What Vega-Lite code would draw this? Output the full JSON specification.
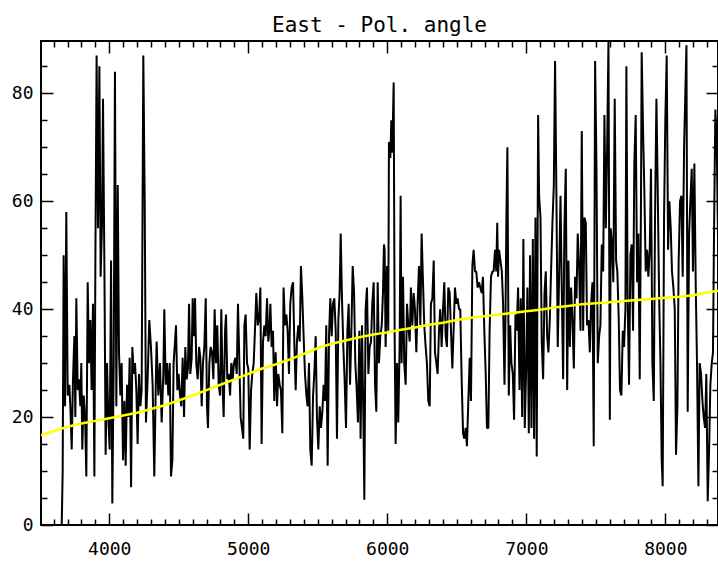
{
  "$schema": "https://vega.github.io/schema/vega-lite/v6.json",
  "width": 677,
  "height": 484,
  "autosize": {"type": "none"},
  "padding": {"left": 41, "top": 41, "right": 0, "bottom": 36},
  "background": "white",
  "title": {"text": "East - Pol. angle", "font": "DejaVu Sans Mono", "fontSize": 21, "fontWeight": "normal", "color": "black", "anchor": "middle", "baseline": "alphabetic", "offset": -13},
  "config": {
    "view": {"stroke": "black", "strokeWidth": 2},
    "axis": {"domain": false, "grid": false, "tickColor": "black", "tickWidth": 1.5, "labelFont": "DejaVu Sans Mono", "labelFontSize": 18, "labelColor": "black", "title": null}
  },
  "datasets": {
    "east": [
      {"x":3658,"y":0},{"x":3665,"y":10},{"x":3672,"y":50},{"x":3682,"y":22},{"x":3691,"y":58},{"x":3701,"y":24},{"x":3713,"y":26},{"x":3720,"y":22},{"x":3730,"y":14},{"x":3739,"y":27},{"x":3749,"y":35},{"x":3756,"y":20},{"x":3763,"y":42},{"x":3773,"y":25},{"x":3782,"y":27},{"x":3792,"y":22},{"x":3799,"y":30},{"x":3806,"y":14},{"x":3816,"y":24},{"x":3826,"y":20},{"x":3835,"y":9},{"x":3845,"y":45},{"x":3854,"y":30},{"x":3864,"y":38},{"x":3873,"y":25},{"x":3883,"y":41},{"x":3893,"y":9},{"x":3900,"y":48},{"x":3909,"y":87},{"x":3919,"y":55},{"x":3929,"y":85},{"x":3938,"y":46},{"x":3948,"y":56},{"x":3955,"y":79},{"x":3965,"y":48},{"x":3974,"y":13},{"x":3984,"y":30},{"x":3993,"y":20},{"x":4003,"y":14},{"x":4013,"y":49},{"x":4022,"y":4},{"x":4032,"y":30},{"x":4041,"y":84},{"x":4051,"y":22},{"x":4061,"y":63},{"x":4070,"y":32},{"x":4080,"y":24},{"x":4089,"y":30},{"x":4099,"y":12},{"x":4109,"y":23},{"x":4118,"y":11},{"x":4128,"y":26},{"x":4137,"y":20},{"x":4147,"y":31},{"x":4157,"y":7},{"x":4166,"y":33},{"x":4176,"y":28},{"x":4185,"y":30},{"x":4195,"y":25},{"x":4204,"y":15},{"x":4214,"y":28},{"x":4224,"y":22},{"x":4233,"y":25},{"x":4245,"y":87},{"x":4255,"y":60},{"x":4264,"y":19},{"x":4276,"y":27},{"x":4288,"y":38},{"x":4300,"y":33},{"x":4312,"y":26},{"x":4324,"y":9},{"x":4336,"y":28},
      {"x":4341,"y":34},{"x":4353,"y":24},{"x":4365,"y":30},{"x":4377,"y":19},{"x":4389,"y":28},{"x":4396,"y":40},{"x":4406,"y":26},{"x":4415,"y":30},{"x":4425,"y":24},{"x":4435,"y":30},{"x":4444,"y":9},{"x":4454,"y":12},{"x":4463,"y":30},{"x":4473,"y":34},{"x":4480,"y":37},{"x":4490,"y":25},{"x":4499,"y":28},{"x":4509,"y":24},{"x":4518,"y":22},{"x":4528,"y":31},{"x":4538,"y":20},{"x":4547,"y":33},{"x":4557,"y":27},{"x":4566,"y":29},{"x":4574,"y":41},{"x":4583,"y":28},{"x":4593,"y":31},{"x":4600,"y":42},{"x":4610,"y":35},{"x":4617,"y":42},{"x":4626,"y":30},{"x":4636,"y":27},{"x":4646,"y":33},{"x":4655,"y":31},{"x":4665,"y":22},{"x":4674,"y":30},{"x":4684,"y":33},{"x":4694,"y":42},{"x":4703,"y":22},{"x":4710,"y":18},{"x":4720,"y":30},{"x":4729,"y":33},{"x":4739,"y":32},{"x":4749,"y":27},{"x":4758,"y":40},{"x":4768,"y":30},{"x":4777,"y":37},{"x":4787,"y":26},{"x":4797,"y":24},{"x":4806,"y":40},{"x":4816,"y":25},{"x":4823,"y":20},{"x":4833,"y":36},{"x":4840,"y":39},{"x":4849,"y":27},{"x":4859,"y":28},{"x":4869,"y":24},{"x":4878,"y":30},{"x":4888,"y":27},{"x":4897,"y":30},{"x":4907,"y":31},{"x":4917,"y":28},{"x":4926,"y":41},{"x":4936,"y":30},{"x":4945,"y":20},{"x":4955,"y":18},{"x":4964,"y":16},{"x":4972,"y":37},{"x":4981,"y":39},{"x":4991,"y":30},{"x":5000,"y":29},{"x":5010,"y":14},{"x":5020,"y":25},{"x":5029,"y":28},{"x":5039,"y":30},{"x":5048,"y":36},{"x":5058,"y":43},{"x":5068,"y":37},{"x":5077,"y":38},{"x":5087,"y":44},{"x":5096,"y":15},{"x":5106,"y":34},{"x":5116,"y":37},{"x":5125,"y":35},{"x":5135,"y":42},{"x":5144,"y":34},{"x":5154,"y":37},
      {"x":5159,"y":41},{"x":5168,"y":33},{"x":5178,"y":36},{"x":5187,"y":23},{"x":5197,"y":32},{"x":5207,"y":22},{"x":5216,"y":28},{"x":5226,"y":26},{"x":5235,"y":25},{"x":5245,"y":17},{"x":5254,"y":44},{"x":5264,"y":37},{"x":5274,"y":39},{"x":5283,"y":36},{"x":5293,"y":28},{"x":5302,"y":41},{"x":5312,"y":44},{"x":5322,"y":45},{"x":5331,"y":34},{"x":5341,"y":25},{"x":5350,"y":34},{"x":5360,"y":37},{"x":5370,"y":34},{"x":5379,"y":48},{"x":5389,"y":42},{"x":5398,"y":35},{"x":5408,"y":28},{"x":5418,"y":24},{"x":5427,"y":22},{"x":5437,"y":30},{"x":5446,"y":14},{"x":5456,"y":11},{"x":5466,"y":24},{"x":5475,"y":28},{"x":5485,"y":35},{"x":5494,"y":20},{"x":5504,"y":14},{"x":5514,"y":22},{"x":5523,"y":18},{"x":5533,"y":21},{"x":5542,"y":26},{"x":5552,"y":23},{"x":5561,"y":37},{"x":5571,"y":11},{"x":5581,"y":35},{"x":5590,"y":42},{"x":5600,"y":35},{"x":5609,"y":41},{"x":5619,"y":42},{"x":5629,"y":36},{"x":5638,"y":16},{"x":5648,"y":38},{"x":5657,"y":43},{"x":5665,"y":54},{"x":5674,"y":42},{"x":5684,"y":33},{"x":5693,"y":27},{"x":5703,"y":18},{"x":5713,"y":36},{"x":5722,"y":41},{"x":5732,"y":26},{"x":5741,"y":35},{"x":5751,"y":48},{"x":5761,"y":43},{"x":5770,"y":30},{"x":5780,"y":25},{"x":5789,"y":19},{"x":5799,"y":36},{"x":5808,"y":16},{"x":5818,"y":37},{"x":5828,"y":20},{"x":5835,"y":4.7},{"x":5844,"y":40},{"x":5854,"y":44},{"x":5864,"y":28},{"x":5873,"y":33},{"x":5883,"y":34},{"x":5892,"y":41},{"x":5902,"y":45},{"x":5912,"y":26},{"x":5921,"y":21},{"x":5931,"y":45},{"x":5940,"y":30},{"x":5950,"y":35},{"x":5960,"y":37},{"x":5969,"y":43},{"x":5976,"y":52},
      {"x":5981,"y":51},{"x":5988,"y":33},{"x":5998,"y":48},{"x":6007,"y":36},{"x":6012,"y":71},{"x":6022,"y":68},{"x":6029,"y":75},{"x":6036,"y":69},{"x":6046,"y":82},{"x":6053,"y":35},{"x":6060,"y":15},{"x":6070,"y":30},{"x":6079,"y":19},{"x":6089,"y":34},{"x":6096,"y":61},{"x":6103,"y":30},{"x":6113,"y":46},{"x":6122,"y":30},{"x":6132,"y":26},{"x":6142,"y":41},{"x":6151,"y":37},{"x":6161,"y":34},{"x":6170,"y":44},{"x":6180,"y":37},{"x":6190,"y":43},{"x":6199,"y":40},{"x":6209,"y":32},{"x":6218,"y":41},{"x":6228,"y":48},{"x":6238,"y":37},{"x":6247,"y":54},{"x":6257,"y":45},{"x":6266,"y":37},{"x":6276,"y":33},{"x":6285,"y":30},{"x":6295,"y":23},{"x":6305,"y":22},{"x":6314,"y":41},{"x":6324,"y":42},{"x":6334,"y":49},{"x":6343,"y":32},{"x":6353,"y":30},{"x":6362,"y":28},{"x":6372,"y":36},{"x":6381,"y":40},{"x":6391,"y":33},{"x":6401,"y":40},{"x":6410,"y":45},{"x":6420,"y":35},{"x":6429,"y":33},{"x":6439,"y":44},{"x":6449,"y":43},{"x":6458,"y":36},{"x":6468,"y":29},{"x":6477,"y":36},{"x":6487,"y":44},{"x":6497,"y":41},{"x":6506,"y":42},{"x":6516,"y":40},{"x":6525,"y":40},{"x":6535,"y":27},{"x":6545,"y":17},{"x":6554,"y":16},{"x":6564,"y":18},{"x":6573,"y":14.6},{"x":6583,"y":23},{"x":6593,"y":31},{"x":6602,"y":23},{"x":6612,"y":48},{"x":6621,"y":51},{"x":6631,"y":47},{"x":6640,"y":47},{"x":6650,"y":44},{"x":6660,"y":45},{"x":6669,"y":44},{"x":6679,"y":43},{"x":6688,"y":46},{"x":6698,"y":36},{"x":6708,"y":28},{"x":6717,"y":18},{"x":6727,"y":18},{"x":6736,"y":36},{"x":6746,"y":46},{"x":6756,"y":47},{"x":6765,"y":47},{"x":6775,"y":51},{"x":6784,"y":47},{"x":6791,"y":56},
      {"x":6797,"y":46},{"x":6804,"y":51},{"x":6814,"y":49},{"x":6824,"y":47},{"x":6833,"y":41},{"x":6843,"y":26},{"x":6850,"y":38},{"x":6857,"y":57},{"x":6864,"y":70},{"x":6874,"y":24},{"x":6884,"y":37},{"x":6893,"y":30},{"x":6903,"y":28},{"x":6912,"y":19.5},{"x":6922,"y":39},{"x":6931,"y":36},{"x":6941,"y":44},{"x":6951,"y":25},{"x":6960,"y":42},{"x":6970,"y":20},{"x":6979,"y":53},{"x":6989,"y":18},{"x":6999,"y":29},{"x":7008,"y":44},{"x":7018,"y":17},{"x":7027,"y":50},{"x":7037,"y":18},{"x":7047,"y":53},{"x":7056,"y":16},{"x":7066,"y":57},{"x":7075,"y":12.7},{"x":7085,"y":76},{"x":7092,"y":61},{"x":7102,"y":57},{"x":7111,"y":34},{"x":7121,"y":27},{"x":7131,"y":43},{"x":7140,"y":47},{"x":7150,"y":35},{"x":7159,"y":32},{"x":7169,"y":38},{"x":7178,"y":47},{"x":7188,"y":56},{"x":7198,"y":63},{"x":7207,"y":86},{"x":7217,"y":60},{"x":7226,"y":33},{"x":7236,"y":46},{"x":7246,"y":61},{"x":7255,"y":44},{"x":7265,"y":27},{"x":7274,"y":55},{"x":7284,"y":66},{"x":7294,"y":25},{"x":7303,"y":49},{"x":7313,"y":33},{"x":7322,"y":44},{"x":7332,"y":38},{"x":7342,"y":29},{"x":7351,"y":46},{"x":7361,"y":42},{"x":7370,"y":54},{"x":7380,"y":48},{"x":7390,"y":36},{"x":7399,"y":73},{"x":7409,"y":36},{"x":7418,"y":57},{"x":7428,"y":56},{"x":7437,"y":37},{"x":7447,"y":38},{"x":7457,"y":32},{"x":7466,"y":41},{"x":7476,"y":45},{"x":7485,"y":14.6},{"x":7495,"y":86},{"x":7505,"y":66},{"x":7514,"y":30},{"x":7524,"y":35},{"x":7533,"y":37},{"x":7543,"y":52},{"x":7553,"y":47},{"x":7562,"y":76},{"x":7572,"y":55},{"x":7581,"y":69},{"x":7591,"y":89.5},{"x":7601,"y":19.5},
      {"x":7607,"y":55},{"x":7617,"y":52},{"x":7626,"y":45},{"x":7636,"y":79},{"x":7646,"y":49},{"x":7655,"y":47},{"x":7665,"y":38},{"x":7674,"y":25},{"x":7684,"y":24},{"x":7694,"y":36},{"x":7703,"y":33},{"x":7713,"y":40},{"x":7720,"y":85},{"x":7729,"y":42},{"x":7739,"y":26},{"x":7749,"y":50},{"x":7758,"y":52},{"x":7768,"y":36},{"x":7777,"y":67},{"x":7787,"y":76},{"x":7797,"y":45},{"x":7806,"y":54},{"x":7816,"y":27},{"x":7825,"y":60},{"x":7830,"y":87.6},{"x":7840,"y":73},{"x":7849,"y":62},{"x":7859,"y":47},{"x":7869,"y":51},{"x":7878,"y":46},{"x":7888,"y":51},{"x":7897,"y":66},{"x":7907,"y":30},{"x":7917,"y":23},{"x":7926,"y":57},{"x":7936,"y":79},{"x":7945,"y":63},{"x":7955,"y":43},{"x":7965,"y":30},{"x":7974,"y":12},{"x":7981,"y":7.2},{"x":7991,"y":57},{"x":8000,"y":75},{"x":8010,"y":87},{"x":8020,"y":51},{"x":8029,"y":60},{"x":8039,"y":55},{"x":8048,"y":47},{"x":8058,"y":44},{"x":8068,"y":40},{"x":8077,"y":13},{"x":8087,"y":22},{"x":8096,"y":49},{"x":8106,"y":60},{"x":8116,"y":61},{"x":8125,"y":46},{"x":8135,"y":70},{"x":8144,"y":80},{"x":8152,"y":88.9},{"x":8161,"y":21},{"x":8171,"y":54},{"x":8180,"y":60},{"x":8190,"y":66},{"x":8199,"y":47},{"x":8209,"y":67},{"x":8219,"y":44},{"x":8228,"y":30},{"x":8238,"y":7.2},{"x":8247,"y":30},{"x":8257,"y":28},{"x":8267,"y":23},{"x":8276,"y":20},{"x":8286,"y":18},{"x":8295,"y":28},{"x":8305,"y":4.4},{"x":8315,"y":14},{"x":8324,"y":26},{"x":8334,"y":30},{"x":8343,"y":32},{"x":8350,"y":53},{"x":8360,"y":77},{"x":8370,"y":71},{"x":8379,"y":53}
    ],
    "smooth": [
      {"x":3509,"y":16.6},{"x":3600,"y":17.4},{"x":3700,"y":18.2},{"x":3800,"y":18.8},{"x":3900,"y":19.3},{"x":4000,"y":19.8},{"x":4100,"y":20.3},{"x":4200,"y":20.8},{"x":4300,"y":21.5},{"x":4400,"y":22.2},{"x":4500,"y":23.1},{"x":4600,"y":24.0},{"x":4700,"y":25.0},{"x":4800,"y":26.0},{"x":4900,"y":27.0},{"x":5000,"y":28.0},{"x":5100,"y":29.0},{"x":5200,"y":29.8},{"x":5300,"y":30.7},{"x":5400,"y":31.7},{"x":5500,"y":32.8},{"x":5600,"y":33.6},{"x":5700,"y":34.2},{"x":5800,"y":34.8},{"x":5900,"y":35.3},{"x":6000,"y":35.7},{"x":6100,"y":36.2},{"x":6200,"y":36.6},{"x":6300,"y":37.1},{"x":6400,"y":37.5},{"x":6500,"y":38.0},{"x":6600,"y":38.4},{"x":6700,"y":38.7},{"x":6800,"y":39.0},{"x":6900,"y":39.3},{"x":7000,"y":39.6},{"x":7100,"y":39.9},{"x":7200,"y":40.3},{"x":7300,"y":40.6},{"x":7400,"y":40.9},{"x":7500,"y":41.1},{"x":7600,"y":41.3},{"x":7700,"y":41.5},{"x":7800,"y":41.7},{"x":7900,"y":41.9},{"x":8000,"y":42.1},{"x":8100,"y":42.3},{"x":8200,"y":42.6},{"x":8300,"y":43.1},{"x":8379,"y":43.4}
    ]
  },
  "layer": [
    {
      "data": {"name": "east"},
      "mark": {"type": "line", "color": "black", "strokeWidth": 2, "strokeJoin": "bevel", "clip": true},
      "encoding": {
        "x": {"field": "x", "type": "quantitative",
          "scale": {"domain": [3509, 8379], "nice": false, "zero": false},
          "axis": {"orient": "bottom", "format": "d", "labelOverlap": false, "labelFlush": false, "labelPadding": 27,
            "values": [3600,3700,3800,3900,4000,4100,4200,4300,4400,4500,4600,4700,4800,4900,5000,5100,5200,5300,5400,5500,5600,5700,5800,5900,6000,6100,6200,6300,6400,6500,6600,6700,6800,6900,7000,7100,7200,7300,7400,7500,7600,7700,7800,7900,8000,8100,8200,8300],
            "tickSize": {"condition": {"test": "datum.value % 1000 === 0", "value": -12}, "value": -6},
            "labelExpr": "datum.value % 1000 === 0 ? datum.label : ''"}},
        "y": {"field": "y", "type": "quantitative",
          "scale": {"domain": [0, 89.7], "nice": false, "zero": false},
          "axis": {"orient": "left", "format": "d", "labelOverlap": false, "labelFlush": false, "labelPadding": 20,
            "values": [0,5,10,15,20,25,30,35,40,45,50,55,60,65,70,75,80,85],
            "tickSize": {"condition": {"test": "datum.value % 20 === 0", "value": -12}, "value": -6},
            "labelExpr": "datum.value % 20 === 0 ? datum.label : ''"}}
      }
    },
    {
      "data": {"name": "smooth"},
      "mark": {"type": "line", "color": "#ffff00", "strokeWidth": 2.5, "clip": true},
      "encoding": {
        "x": {"field": "x", "type": "quantitative",
          "axis": {"orient": "top", "labels": false,
            "values": [3600,3700,3800,3900,4000,4100,4200,4300,4400,4500,4600,4700,4800,4900,5000,5100,5200,5300,5400,5500,5600,5700,5800,5900,6000,6100,6200,6300,6400,6500,6600,6700,6800,6900,7000,7100,7200,7300,7400,7500,7600,7700,7800,7900,8000,8100,8200,8300],
            "tickSize": {"condition": {"test": "datum.value % 1000 === 0", "value": -12}, "value": -6}}},
        "y": {"field": "y", "type": "quantitative",
          "axis": {"orient": "right", "labels": false,
            "values": [0,5,10,15,20,25,30,35,40,45,50,55,60,65,70,75,80,85],
            "tickSize": {"condition": {"test": "datum.value % 20 === 0", "value": -12}, "value": -6}}}
      }
    }
  ],
  "resolve": {"axis": {"x": "independent", "y": "independent"}}
}
